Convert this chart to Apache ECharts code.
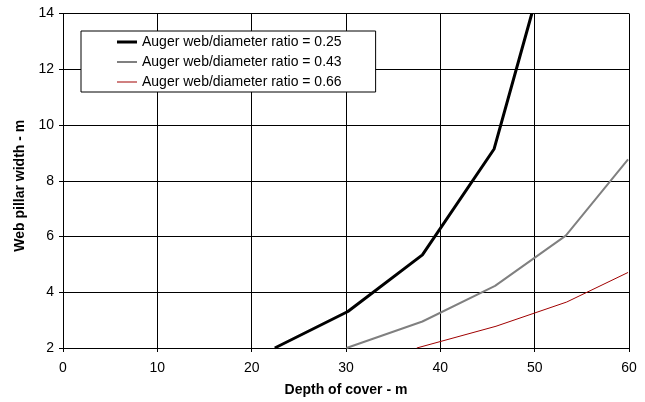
<!DOCTYPE html>
<html>
<head>
<meta charset="utf-8">
<script src="https://cdn.jsdelivr.net/npm/echarts@6/dist/echarts.min.js"></script>
<style>html,body{margin:0;padding:0;background:#fff;}#c{width:645px;height:402px;}</style>
</head>
<body>
<div id="c"></div>
<script>
var seriesNames = ['Auger web/diameter ratio = 0.25', 'Auger web/diameter ratio = 0.43', 'Auger web/diameter ratio = 0.66'];
var depth025 = [22.45, 30.2, 38.1, 45.7, 49.7];
var width025 = [2.0, 3.31, 5.34, 9.14, 14.0];
var depth043 = [30.05, 38.1, 45.8, 53.3, 59.9];
var width043 = [2.0, 2.95, 4.23, 6.03, 8.77];
var depth066 = [37.5, 45.9, 53.4, 59.9];
var width066 = [2.0, 2.78, 3.65, 4.71];
var xTicks = {min: 0, max: 60, interval: 10};
var yTicks = {min: 2, max: 14, interval: 2};

function pairs(xs, ys) { return xs.map(function (x, i) { return [x, ys[i]]; }); }

var chart = echarts.init(document.getElementById('c'), null, {renderer: 'canvas'});
var font = 'Arial, "Liberation Sans", sans-serif';
chart.setOption({
  animation: false,
  backgroundColor: '#fff',
  textStyle: {fontFamily: font},
  grid: {left: 63, right: 16, top: 13.5, bottom: 53.5, containLabel: false},
  legend: {
    orient: 'vertical',
    left: 81, top: 31,
    padding: [4, 34, 3, 36],
    itemWidth: 20, itemHeight: 14, itemGap: 6,
    backgroundColor: '#fff', borderColor: '#000', borderWidth: 1, borderRadius: 0,
    textStyle: {fontSize: 14, color: '#000', fontFamily: font},
    data: [
      {name: seriesNames[0], icon: 'path://M0,0H20V3H0Z'},
      {name: seriesNames[1], icon: 'path://M0,0H20V2H0Z'},
      {name: seriesNames[2], icon: 'path://M0,0H20V1H0Z'}
    ]
  },
  xAxis: {
    type: 'value', min: xTicks.min, max: xTicks.max, interval: xTicks.interval,
    name: 'Depth of cover - m', nameLocation: 'middle', nameGap: 35,
    nameTextStyle: {fontSize: 14, fontWeight: 'bold', color: '#000', fontFamily: font},
    axisLine: {show: true, lineStyle: {color: '#000', width: 1}},
    axisTick: {show: true, length: 4, lineStyle: {color: '#000'}},
    axisLabel: {fontSize: 14, color: '#000', margin: 13, fontFamily: font},
    splitLine: {show: true, lineStyle: {color: '#000', width: 1}}
  },
  yAxis: {
    type: 'value', min: yTicks.min, max: yTicks.max, interval: yTicks.interval,
    name: 'Web pillar width - m', nameLocation: 'middle', nameGap: 32,
    nameTextStyle: {fontSize: 14, fontWeight: 'bold', color: '#000', fontFamily: font, padding: [0, 10, 0, 0]},
    axisLine: {show: true, lineStyle: {color: '#000', width: 1}},
    axisTick: {show: true, length: 4, lineStyle: {color: '#000'}},
    axisLabel: {fontSize: 14, color: '#000', margin: 9, fontFamily: font},
    splitLine: {show: true, lineStyle: {color: '#000', width: 1}}
  },
  series: [
    {name: seriesNames[0], type: 'line', symbol: 'none', data: pairs(depth025, width025),
     lineStyle: {color: '#000', width: 3}, itemStyle: {color: '#000'}},
    {name: seriesNames[1], type: 'line', symbol: 'none', data: pairs(depth043, width043),
     lineStyle: {color: '#808080', width: 2}, itemStyle: {color: '#808080'}},
    {name: seriesNames[2], type: 'line', symbol: 'none', data: pairs(depth066, width066),
     lineStyle: {color: '#A00000', width: 1}, itemStyle: {color: '#A00000'}}
  ]
});
</script>
</body>
</html>
